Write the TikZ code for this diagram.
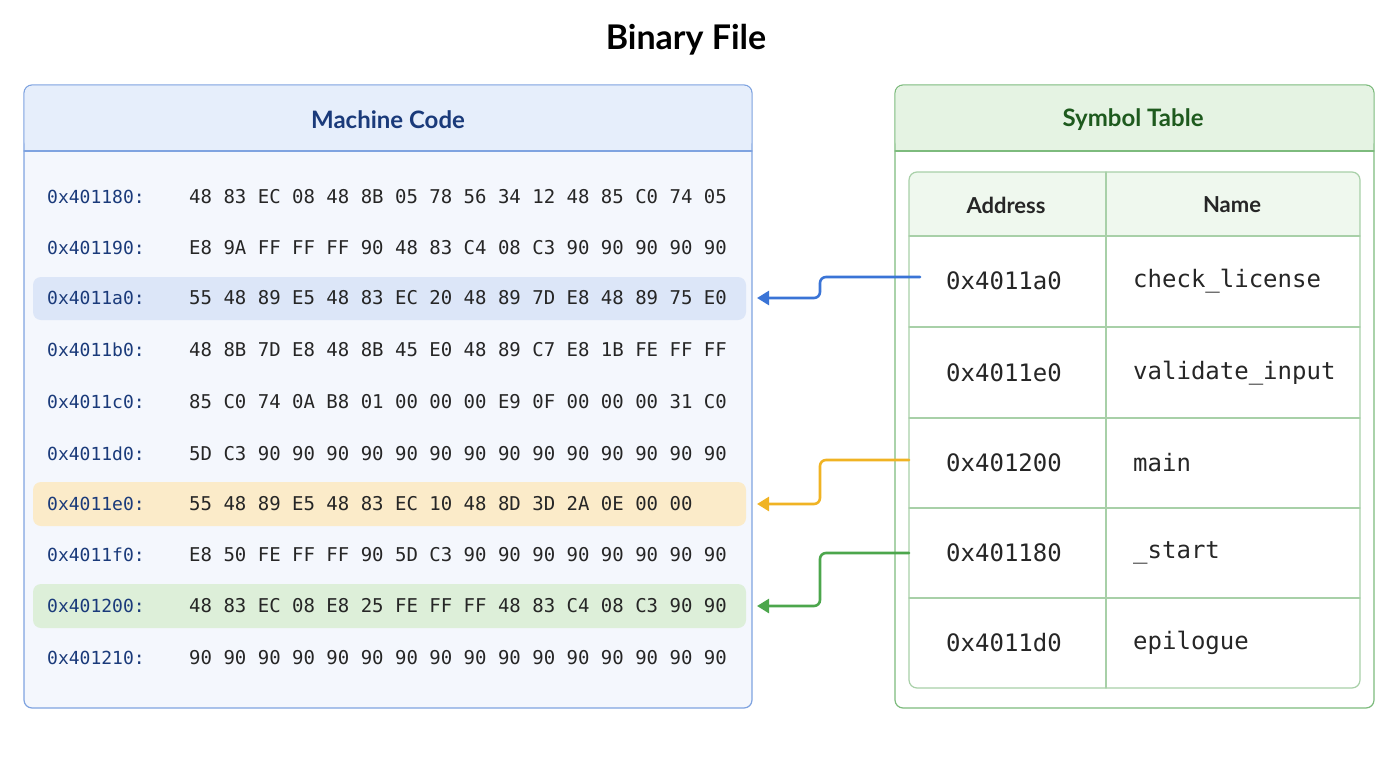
\documentclass[tikz,border=0pt]{standalone}
\usepackage{fontspec}
\setmainfont{Lato}
\newfontfamily\hexfont{DejaVu Sans Mono}
\usetikzlibrary{arrows.meta}
\definecolor{mcline}{HTML}{7FA3E0}
\definecolor{mcfill}{HTML}{F4F7FD}
\definecolor{mchead}{HTML}{E6EEFB}
\definecolor{mctext}{HTML}{1A3A7A}
\definecolor{stline}{HTML}{7DBB7D}
\definecolor{sthead}{HTML}{E5F3E3}
\definecolor{sttext}{HTML}{1E5A1E}
\definecolor{tbline}{HTML}{A8D0A8}
\definecolor{hlblue}{HTML}{DCE6F8}
\definecolor{hlyellow}{HTML}{FBEBC9}
\definecolor{hlgreen}{HTML}{DDEFD9}
\definecolor{arblue}{HTML}{3A74D6}
\definecolor{aryellow}{HTML}{F0B323}
\definecolor{argreen}{HTML}{4CA64C}
\tikzset{
  addr/.style={anchor=west, inner sep=0pt, font=\hexfont\fontsize{18}{18}\selectfont, text=mctext},
  bytes/.style={anchor=west, inner sep=0pt, font=\hexfont\fontsize{19}{19}\selectfont, text=black!85},
  symcell/.style={anchor=west, inner sep=0pt, font=\hexfont\fontsize{24}{24}\selectfont, text=black!85},
  colhead/.style={inner sep=0pt, font=\bfseries\fontsize{22}{22}\selectfont, text=black!85},
  link/.style={line width=2.6pt, rounded corners=6pt, -{Triangle[length=12pt,width=14pt]}}
}
\begin{document}
\begin{tikzpicture}[line cap=round, line join=round, x=1pt, y=-1pt]
  \useasboundingbox (0,0) rectangle (1400,768);

  \node (title) at (686,40) {\bfseries\fontsize{34}{34}\selectfont Binary File};

  % machine code panel
  \draw[mcline, fill=mcfill, line width=1.2pt, rounded corners=8pt] (24,85) rectangle (752,708);
  \fill[mchead, rounded corners=8pt] (24.6,85.6) rectangle (751.4,150);
  \fill[mchead] (24.6,120) rectangle (751.4,151);
  \draw[mcline, line width=1.2pt] (24,151) -- (752,151);
  \node[text=mctext] (mctitle) at (388,120) {\bfseries\fontsize{24}{24}\selectfont Machine Code};

  \fill[hlblue, rounded corners=8pt] (33,277) rectangle (746,320);
  \fill[hlyellow, rounded corners=8pt] (33,482) rectangle (746,526);
  \fill[hlgreen, rounded corners=8pt] (33,584) rectangle (746,628);
  \coordinate (hl3) at (757,298);
  \coordinate (hl7) at (757,504);
  \coordinate (hl9) at (757,606);

  \foreach \i/\y/\a/\b in {
    1/197/0x401180:/48 83 EC 08 48 8B 05 78 56 34 12 48 85 C0 74 05,
    2/248/0x401190:/E8 9A FF FF FF 90 48 83 C4 08 C3 90 90 90 90 90,
    3/298/0x4011a0:/55 48 89 E5 48 83 EC 20 48 89 7D E8 48 89 75 E0,
    4/350/0x4011b0:/48 8B 7D E8 48 8B 45 E0 48 89 C7 E8 1B FE FF FF,
    5/402/0x4011c0:/85 C0 74 0A B8 01 00 00 00 E9 0F 00 00 00 31 C0,
    6/454/0x4011d0:/5D C3 90 90 90 90 90 90 90 90 90 90 90 90 90 90,
    7/504/0x4011e0:/55 48 89 E5 48 83 EC 10 48 8D 3D 2A 0E 00 00,
    8/555/0x4011f0:/E8 50 FE FF FF 90 5D C3 90 90 90 90 90 90 90 90,
    9/606/0x401200:/48 83 EC 08 E8 25 FE FF FF 48 83 C4 08 C3 90 90,
    10/658/0x401210:/90 90 90 90 90 90 90 90 90 90 90 90 90 90 90 90}{
    \node[addr] (addr\i) at (47,\y) {\a};
    \node[bytes] (row\i) at (189,\y) {\b};
  }

  % symbol table panel
  \draw[stline, fill=white, line width=1.2pt, rounded corners=8pt] (895,85) rectangle (1374,708);
  \fill[sthead, rounded corners=8pt] (895.6,85.6) rectangle (1373.4,150);
  \fill[sthead] (895.6,120) rectangle (1373.4,151);
  \draw[stline, line width=1.2pt] (895,151) -- (1374,151);
  \node[text=sttext] (sttitle) at (1133,120) {\bfseries\fontsize{24}{24}\selectfont Symbol Table};

  \fill[sthead!60, rounded corners=8pt] (909,172) rectangle (1360,236);
  \fill[sthead!60] (909,210) rectangle (1360,236);
  \draw[tbline, line width=1.2pt, rounded corners=8pt] (909,172) rectangle (1360,688);
  \draw[tbline, line width=1.2pt] (1106,172) -- (1106,688);
  \foreach \y in {236,327,418,508,598}
    \draw[tbline, line width=1.2pt] (909,\y) -- (1360,\y);
  \node[colhead] (hdaddr) at (1006,205) {Address};
  \node[colhead] (hdname) at (1232,205) {Name};

  \foreach \i/\y/\a/\n in {1/281/0x4011a0/check\_license, 2/373/0x4011e0/validate\_input,
    3/463/0x401200/main, 4/553/0x401180/\_start, 5/643/0x4011d0/epilogue}{
    \node[symcell] (sym\i) at (946,\y) {\a};
    \node[symcell] (name\i) at (1133,\y) {\n};
  }
  \coordinate (from1) at (920,277);
  \coordinate (from3) at (909,460);
  \coordinate (from4) at (909,553);

  % links
  \draw[link, arblue] (from1) -- (820,277) -- (820,298) -- (hl3);
  \draw[link, aryellow] (from3) -- (820,460) -- (820,504) -- (hl7);
  \draw[link, argreen] (from4) -- (820,553) -- (820,606) -- (hl9);
\end{tikzpicture}
\end{document}
